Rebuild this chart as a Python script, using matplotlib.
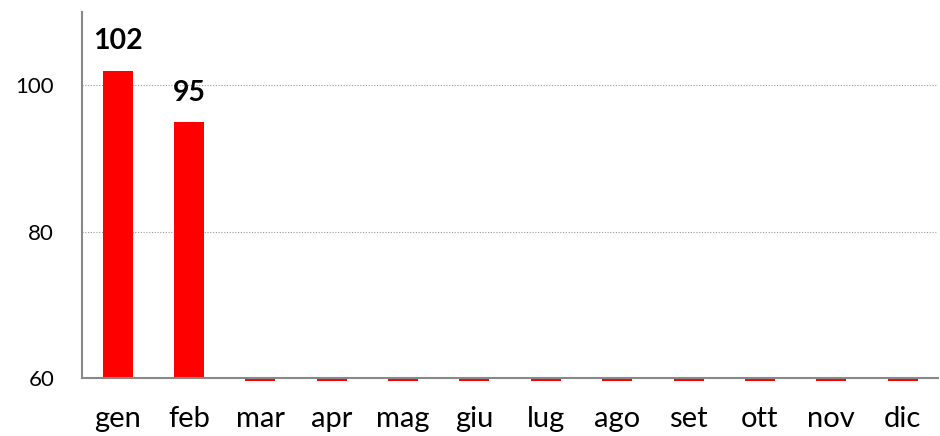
import numpy as np
import matplotlib
matplotlib.use('Agg')
import matplotlib.pyplot as plt

# monthly values (only gen and feb have data, the rest are empty / zero)
months = ['gen', 'feb', 'mar', 'apr', 'mag', 'giu', 'lug', 'ago', 'set', 'ott', 'nov', 'dic']
values = [102, 95, 0, 0, 0, 0, 0, 0, 0, 0, 0, 0]
y_ticks = [60, 80, 100]
y_min, y_max = 60, 110

plt.rcParams['font.family'] = ['Lato', 'DejaVu Sans']

fig = plt.figure(figsize=(9.4, 4.36), dpi=100)
ax = fig.add_axes([0.0872, 0.133, 0.911, 0.8395])

x = np.arange(len(months))
vals = np.array(values, dtype=float)
# bars start at the axis minimum; empty months show as a thin sliver below the axis like Excel does
heights = np.where(vals >= y_min, vals - y_min, -0.35)
ax.bar(x, heights, bottom=y_min, width=0.42, color='#ff0000', clip_on=False, zorder=2)

for xi, v in zip(x, values):
    if v > y_min:
        ax.text(xi, v + 2.2, str(v), ha='center', va='bottom', fontsize=20.5, fontweight='bold')

ax.set_xlim(-0.5, len(months) - 0.5)
ax.set_ylim(y_min, y_max)
ax.set_yticks(y_ticks)
ax.set_xticks(x)
ax.set_xticklabels(months, fontsize=21)
ax.tick_params(axis='y', labelsize=16, length=0, pad=20)
ax.tick_params(axis='x', length=0, pad=20)

for yt in y_ticks[1:]:
    ax.axhline(yt, color='#999999', linestyle=(0, (1, 1.5)), linewidth=0.8, zorder=1)

for side in ['top', 'right']:
    ax.spines[side].set_visible(False)
for side in ['left', 'bottom']:
    ax.spines[side].set_color('#888888')
    ax.spines[side].set_linewidth(1.5)
    ax.spines[side].set_zorder(3)

fig.savefig('out.png', dpi=100)
